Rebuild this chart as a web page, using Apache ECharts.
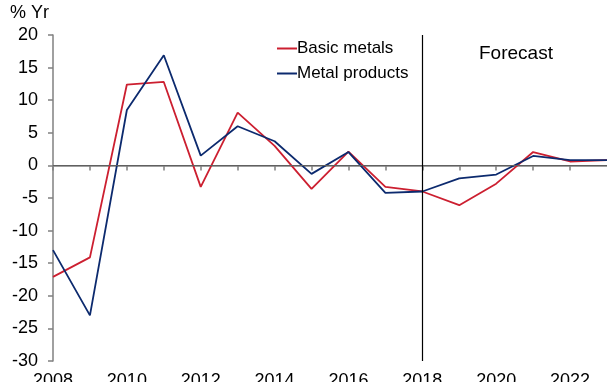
<!DOCTYPE html>
<html lang="en">
<head>
  <meta charset="UTF-8">
  <title>Metals</title>
  <script src="https://cdn.jsdelivr.net/npm/echarts@6/dist/echarts.min.js"></script>
  <style>
    html, body { margin: 0; padding: 0; background: #fff; }
  </style>
</head>
<body>
  <div id="chart" style="width: 607px; height: 382px;"></div>
  <script>
    const years = [2008, 2009, 2010, 2011, 2012, 2013, 2014, 2015, 2016, 2017, 2018, 2019, 2020, 2021, 2022, 2023]
    const basicMetals = [-17.1, -14.1, 12.4, 12.8, -3.3, 8.1, 3.0, -3.6, 2.1, -3.3, -4.0, -6.1, -2.8, 2.05, 0.6, 0.8]
    const metalProducts = [-13.0, -23.0, 8.5, 16.9, 1.5, 6.0, 3.7, -1.3, 2.05, -4.2, -4.0, -2.0, -1.4, 1.45, 0.8, 0.8]
    const forecastStart = 2018

    const font = 'Liberation Sans, Arial, sans-serif'
    const chart = echarts.init(document.getElementById('chart'))

    // [year, value] pairs for the value x axis
    const pairs = vals => years.map((y, i) => [y, vals[i]])

    chart.setOption({
      animation: false,
      grid: { left: 53, right: 0, top: 35, bottom: 21, containLabel: false, outerBoundsMode: 'none' },
      legend: {
        orient: 'vertical',
        left: 272,
        top: 35,
        itemWidth: 20,
        itemHeight: 2,
        itemGap: 8,
        icon: 'rect',
        textStyle: { fontFamily: font, fontSize: 17, color: '#000', padding: [0, 0, 0, -5] },
        data: ['Basic metals', 'Metal products']
      },
      xAxis: {
        type: 'value',
        min: 2008,
        max: 2023,
        interval: 1,
        axisLine: { lineStyle: { color: '#808080', width: 1.5 } },
        axisTick: { length: 5, lineStyle: { color: '#808080', width: 1.5 } },
        splitLine: { show: false },
        axisLabel: {
          fontFamily: font, fontSize: 18, color: '#000', margin: 11,
          showMaxLabel: false,
          formatter: v => (v % 2 === 0 ? String(v) : '')
        }
      },
      yAxis: {
        type: 'value',
        min: -30,
        max: 20,
        interval: 5,
        axisLine: { show: true, lineStyle: { color: '#808080', width: 1.5 } },
        axisTick: { show: true, length: 5, lineStyle: { color: '#808080', width: 1.5 } },
        splitLine: { show: false },
        axisLabel: { fontFamily: font, fontSize: 18, color: '#000', margin: 15 }
      },
      graphic: [
        { type: 'text', left: 10, top: 4, style: { text: '% Yr', fontFamily: font, fontSize: 18, fill: '#000' } },
        { type: 'text', left: 479, top: 44, style: { text: 'Forecast', fontFamily: font, fontSize: 19, fill: '#000' } }
      ],
      series: [
        {
          name: 'Basic metals',
          type: 'line',
          data: pairs(basicMetals),
          symbol: 'none',
          color: '#cc1f30',
          lineStyle: { width: 1.8 },
          z: 3,
          markLine: {
            silent: true,
            symbol: 'none',
            label: { show: false },
            data: [
              { yAxis: 0, lineStyle: { color: '#606060', width: 1.2, type: 'solid' } },
              { xAxis: forecastStart, lineStyle: { color: '#000', width: 1.2, type: 'solid' } }
            ]
          }
        },
        {
          name: 'Metal products',
          type: 'line',
          data: pairs(metalProducts),
          symbol: 'none',
          color: '#0c2a6e',
          lineStyle: { width: 1.8 },
          z: 4
        }
      ]
    })
  </script>
</body>
</html>
